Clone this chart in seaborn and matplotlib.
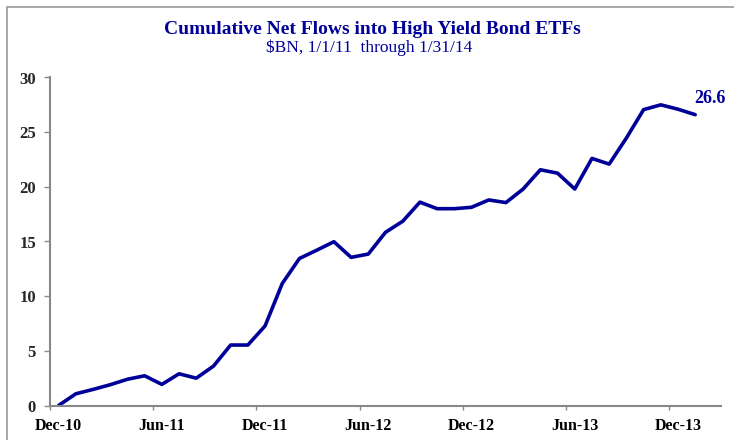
import matplotlib
matplotlib.use("Agg")
import matplotlib.pyplot as plt
import seaborn as sns
import pandas as pd
import numpy as np
from matplotlib.patches import Rectangle

months = ["Dec-10", "Jan-11", "Feb-11", "Mar-11", "Apr-11", "May-11", "Jun-11", "Jul-11",
          "Aug-11", "Sep-11", "Oct-11", "Nov-11", "Dec-11", "Jan-12", "Feb-12", "Mar-12",
          "Apr-12", "May-12", "Jun-12", "Jul-12", "Aug-12", "Sep-12", "Oct-12", "Nov-12",
          "Dec-12", "Jan-13", "Feb-13", "Mar-13", "Apr-13", "May-13", "Jun-13", "Jul-13",
          "Aug-13", "Sep-13", "Oct-13", "Nov-13", "Dec-13", "Jan-14"]
flows = [0.0, 1.07, 1.47, 1.9, 2.4, 2.72, 1.93, 2.9, 2.5, 3.6, 5.53, 5.53, 7.28, 11.16,
         13.45, 14.2, 14.98, 13.55, 13.85, 15.84, 16.85, 18.6, 18.0, 18.0, 18.13, 18.8,
         18.56, 19.8, 21.56, 21.25, 19.8, 22.6, 22.08, 24.46, 27.06, 27.5, 27.1, 26.6]
tick_labels = ["Dec-10", "Jun-11", "Dec-11", "Jun-12", "Dec-12", "Jun-13", "Dec-13"]
yticks = [0, 5, 10, 15, 20, 25, 30]
end_label = "26.6"

df = pd.DataFrame({"idx": np.arange(len(months)), "month": months, "flows": flows})

sns.set_theme(style="white")
plt.rcParams["font.family"] = ["Liberation Serif", "DejaVu Serif"]

fig = plt.figure(figsize=(7.34, 4.40), dpi=100)
ax = fig.add_axes([50/734, 1 - 405.5/440, (721 - 50)/734, (405.5 - 77.5)/440])

navy = "#000099"
sns.lineplot(data=df, x="idx", y="flows", ax=ax, color=navy, linewidth=2.6, legend=False)

ncat = len(months) + 1
ax.set_xlim(-0.5, ncat - 0.5)
ax.set_ylim(0, 30)
ax.set_yticks(yticks)
ax.set_yticklabels([str(v) for v in yticks], fontsize=12)
pos = [months.index(t) for t in tick_labels]
ax.set_xticks(pos)
ax.set_xticklabels(tick_labels, fontsize=11.5, fontweight="bold")
ax.set_xticks([p - 0.5 for p in pos], minor=True)
ax.tick_params(axis="x", which="major", length=0, pad=9, colors="black")
ax.tick_params(axis="x", which="minor", length=3, width=1, color="#888888", bottom=True)
ax.tick_params(axis="y", which="major", length=4, width=1, color="#888888", left=True, pad=6)
for lab in ax.get_yticklabels():
    lab.set_fontweight("bold")
ax.set_xlabel("")
ax.set_ylabel("")

for s in ["top", "right"]:
    ax.spines[s].set_visible(False)
for s in ["left", "bottom"]:
    ax.spines[s].set_color("#888888")
    ax.spines[s].set_linewidth(1.5)

ax.text(len(months) - 1 - 0.05, flows[-1] + 1.5, end_label, color=navy, fontsize=13,
        fontweight="bold", ha="left", va="center", clip_on=False)

fig.text(372/734, 1 - 30/440, "Cumulative Net Flows into High Yield Bond ETFs", color=navy,
         fontsize=14, fontweight="bold", ha="center", va="center")
fig.text(369/734, 1 - 48/440, "$BN, 1/1/11  through 1/31/14", color=navy,
         fontsize=12.5, ha="center", va="center")

fig.patches.append(Rectangle((7/734, -0.1), 1.2, 1 - 7/440 + 0.1, transform=fig.transFigure,
                             fill=False, edgecolor="#999999", linewidth=1.2))

fig.savefig("out.png", dpi=100)
